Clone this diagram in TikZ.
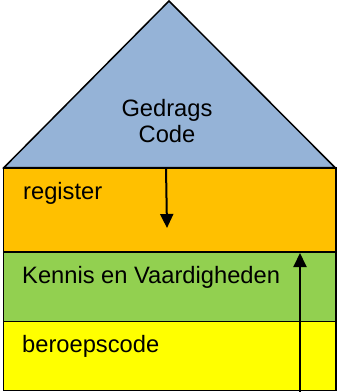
\documentclass[tikz,border=0pt]{standalone}
\usepackage{fontspec}
\setmainfont{Liberation Sans}
\usetikzlibrary{arrows.meta}
\definecolor{roofblue}{HTML}{95B3D7}
\definecolor{regorange}{HTML}{FFC000}
\definecolor{kvgreen}{HTML}{92D050}
\definecolor{codeyellow}{HTML}{FFFF00}
\begin{document}
\begin{tikzpicture}[x=1pt,y=-1pt,line join=miter,
  layerbox/.style={draw=black,line width=1.5pt},
  lbl/.style={anchor=base west,inner sep=0pt,font=\fontsize{23.7}{26.5}\selectfont},
  arr/.style={line width=2pt,-{Triangle[width=13pt,length=14pt]}}]
\useasboundingbox (0,0) rectangle (338,392);
% roof
\filldraw[layerbox,fill=roofblue] (4,167.5) -- (169,1) -- (335,167.5) -- cycle;
% layers
\filldraw[layerbox,fill=codeyellow] (3.5,321.5) rectangle (336,390.5);
\filldraw[layerbox,fill=kvgreen] (3.5,252) rectangle (336,321.5);
\filldraw[layerbox,fill=regorange] (3.5,168) rectangle (336,252);
% texts
\node[font=\fontsize{23.7}{26.5}\selectfont,align=center,inner sep=0pt] (roof) at (167,121) {Gedrags\\Code};
\node[lbl] (reg) at (23,199) {register};
\node[lbl] (kv) at (22,283) {Kennis en Vaardigheden};
\node[lbl] (bc) at (22,352) {beroepscode};
% arrows
\coordinate (dstart) at (166,168);
\coordinate (dend) at (167,228);
\coordinate (ustart) at (300,392);
\coordinate (uend) at (300,253);
\draw[arr] (dstart) -- (dend);
\draw[arr] (ustart) -- (uend);
\end{tikzpicture}
\end{document}
